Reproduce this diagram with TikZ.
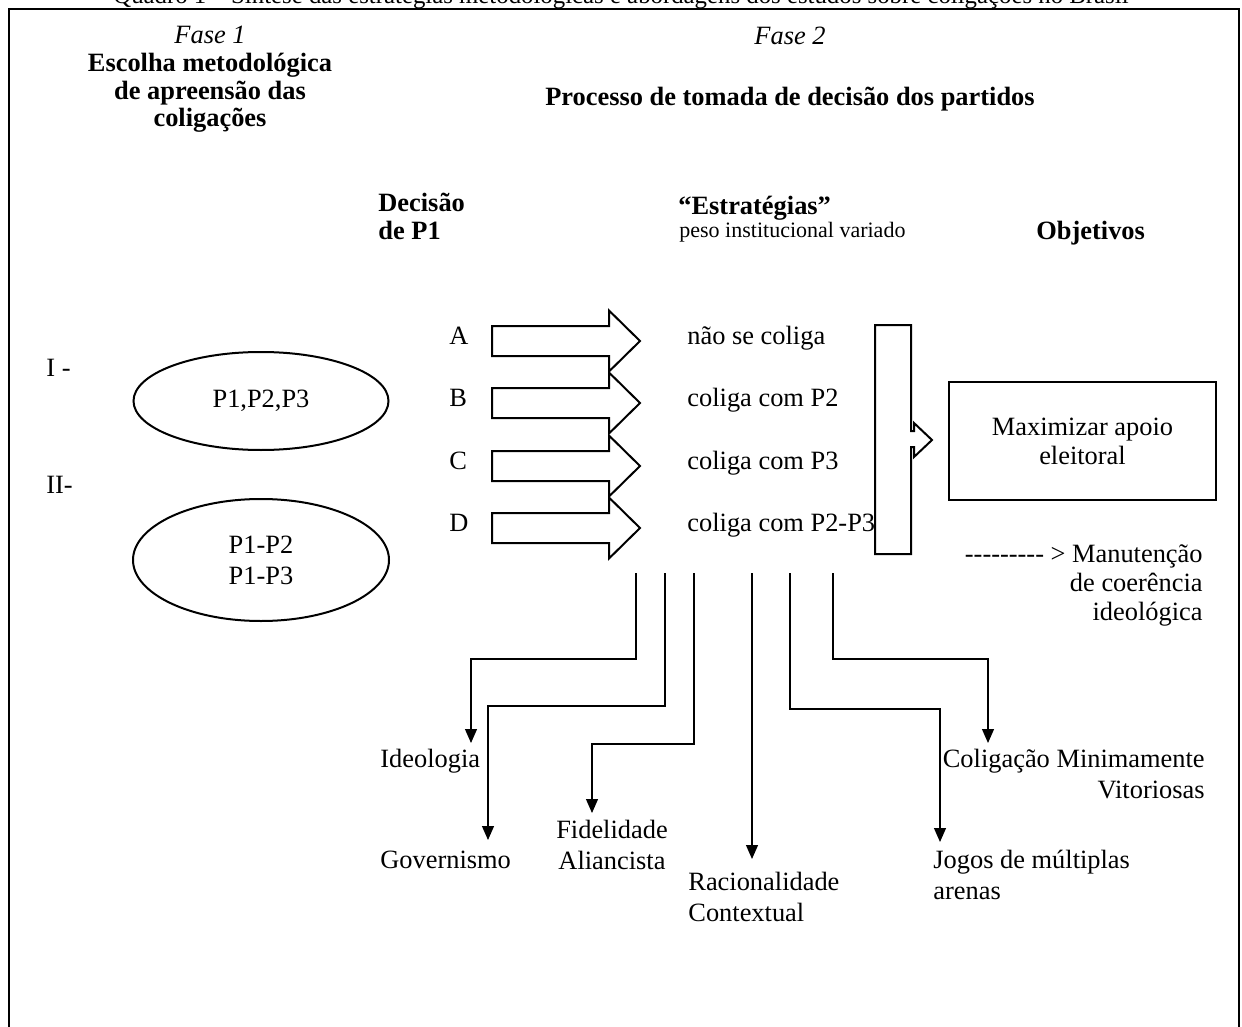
\documentclass[tikz,border=0pt]{standalone}
\usepackage{fontspec}
\setmainfont{Liberation Serif}
\usetikzlibrary{arrows.meta,shapes.geometric}

\begin{document}
\begin{tikzpicture}[x=0.5pt,y=-0.5pt,font=\fontsize{13.2}{13.8}\selectfont,
    txt/.style={inner sep=0pt},
    txtb/.style={inner sep=0pt,font=\fontsize{13.2}{15.5}\selectfont},
    blockarr/.style={draw,line width=1pt,fill=white,line join=miter},
    conn/.style={line width=0.6pt,-{Triangle[width=6pt,length=7pt]}}]
    \useasboundingbox (0,0) rectangle (1242,1027);
    % moldura e titulo
    \draw[line width=1.2pt] (9,1040) -- (9,9) -- (1239,9) -- (1239,1040);
    \node[txt,anchor=base,font=\fontsize{12.4}{14}\selectfont] (titulo) at (621,4) {Quadro 1 – Síntese das estratégias metodológicas e abordagens dos estudos sobre coligações no Brasil};
    % fase 1
    \node[txt,anchor=north,align=center] (fase1) at (210,26) {\textit{Fase 1}\\\textbf{Escolha metodológica}\\\textbf{de apreensão das}\\\textbf{coligações}};
    \node[txt,anchor=base west] (um) at (46,376) {I -};
    \node[txt,anchor=base west] (dois) at (46,493) {II-};
    \node[ellipse,draw,line width=1pt,minimum width=127.5pt,minimum height=49pt,inner sep=0pt] (e1) at (261,401) {P1,P2,P3};
    \node[ellipse,draw,line width=1pt,minimum width=128pt,minimum height=61pt,inner sep=0pt,align=center,font=\fontsize{13.2}{15.5}\selectfont] (e2) at (261,560) {P1-P2\\P1-P3};
    % fase 2
    \node[txt,anchor=base] (fase2) at (790,45) {\textit{Fase 2}};
    \node[txt,anchor=base] (processo) at (790,106) {\textbf{Processo de tomada de decisão dos partidos}};
    \node[txt,anchor=north west,align=left] (decisao) at (378,193) {\textbf{Decisão}\\\textbf{de P1}};
    \node[txt,anchor=base west] (estrat) at (678,215) {\textbf{“Estratégias”}};
    \node[txt,anchor=base west,font=\fontsize{11}{13}\selectfont] (peso) at (679,238) {peso institucional variado};
    \node[txt,anchor=base west] (objetivos) at (1036,240) {\textbf{Objetivos}};
    % setas A-D
    \foreach \l/\c/\s in {A/341/não se coliga,B/403/coliga com P2,C/466/coliga com P3,D/528/coliga com P2-P3}{
        \node[txt,anchor=base west] (l\l) at (449,\c+3) {\l};
        \draw[blockarr] (492,\c-15) -- (609,\c-15) -- (609,\c-30.5) -- (640,\c) -- (609,\c+30.5) -- (609,\c+15) -- (492,\c+15) -- cycle;
        \node[txt,anchor=base west] (s\l) at (687,\c+3) {\s};
    }
    \draw[blockarr] (875,325) -- (911,325) -- (911,431) -- (914,431) -- (914,423) -- (932,440) -- (914,457) -- (914,447) -- (911,447) -- (911,554) -- (875,554) -- cycle;
    \node[draw,line width=1pt,minimum width=133.5pt,minimum height=59pt,align=center,font=\fontsize{13.2}{14.5}\selectfont] (maxim) at (1082.5,441) {Maximizar apoio\\eleitoral};
    \node[txt,anchor=north east,align=right,font=\fontsize{13.2}{14.5}\selectfont] (manut) at (1203,544) {-{}-{}-{}-{}-{}-{}-{}-{}- > Manutenção\\de coerência\\ideológica};
    % abordagens
    \foreach \n/\xo/\ym/\xd/\yd in {1/636/659/471/743,2/665/706/488/840,3/694/744/592/813,4/752/700/752/859,5/790/709/940/842,6/833/659/988/743}{
        \coordinate (o\n) at (\xo,573);
        \coordinate (d\n) at (\xd,\yd);
        \draw[conn] (o\n) -- (o\n |- 0,\ym) -| (d\n);
    }
    \node[txt,anchor=base west] (ideologia) at (380,767) {Ideologia};
    \node[txt,anchor=base west] (governismo) at (380,868) {Governismo};
    \node[txtb,anchor=north,align=center] (fidelidade) at (612,820) {Fidelidade\\Aliancista};
    \node[txtb,anchor=north west,align=left] (racional) at (688,872) {Racionalidade\\Contextual};
    \node[txtb,anchor=north west,align=left] (jogos) at (933,850) {Jogos de múltiplas\\arenas};
    \node[txtb,anchor=north east,align=right] (minima) at (1205,749) {Coligação Minimamente\\Vitoriosas};
\end{tikzpicture}
\end{document}
